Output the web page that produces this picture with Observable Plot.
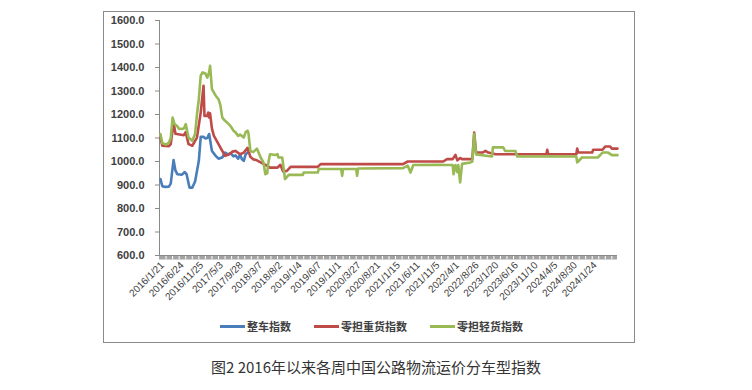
<!DOCTYPE html>
<html>
<head>
<meta charset="utf-8">
<script src="https://cdn.jsdelivr.net/npm/d3@7"></script>
<script src="https://cdn.jsdelivr.net/npm/@observablehq/plot@0.6"></script>
<style>
  html, body { margin: 0; padding: 0; background: #fff; }
  body { width: 752px; height: 390px; position: relative; overflow: hidden; font-family: "Liberation Sans", Arial, sans-serif; }
  #frame { position: absolute; left: 103px; top: 11px; width: 530px; height: 330px; border: 1px solid #8a8a8a; }
  #chart { position: absolute; left: 0; top: 0; }
  #chart svg { overflow: visible; }
  #legend { position: absolute; left: 220px; top: 318px; display: flex; align-items: center; font-family: "Noto Sans CJK SC", sans-serif; font-size: 11px; font-weight: bold; color: #404040; }
  .item { display: flex; align-items: center; }
  .sw { width: 25px; height: 3px; margin-right: 2px; }
  #caption { position: absolute; left: 0; width: 752px; top: 356px; text-align: center; font-family: "Noto Sans CJK SC", sans-serif; font-size: 15px; color: #333; letter-spacing: 0px; }
</style>
</head>
<body>
<div id="frame"></div>
<div id="chart"></div>
<div id="legend"></div>
<div id="caption"></div>
<script>
// ---- data (week index since 2016/1/21) ----
const xLabels = ["2016/1/21","2016/6/24","2016/11/25","2017/5/3","2017/9/28","2018/3/7","2018/8/2","2019/1/4","2019/6/7","2019/11/1","2020/3/27","2020/8/21","2021/1/15","2021/6/11","2021/11/5","2022/4/1","2022/8/26","2023/1/20","2023/6/16","2023/11/10","2024/4/5","2024/8/30","2024/1/24"];
const xLabelWeeks = [0,21,42,63,84,105,126,147,168,189,210,231,252,273,294,315,336,357,378,399,420,441,462];
const yTicks = [600,700,800,900,1000,1100,1200,1300,1400,1500,1600];

const seriesNames = ["整车指数","零担重货指数","零担轻货指数"];
const seriesColors = ["#4a7ebb","#be4b48","#98b954"];

const wholeWeeks  = [0,2,5,9,11,14,16,18,23,26,28,31,34,37,41,43,46,48,50,52,55,59,62,66,69,72,75,78,80,83,85,87,89,91,93,96];
const wholeValues = [925,895,892,893,906,1006,962,946,944,955,945,889,889,915,1003,1105,1105,1098,1100,1117,1045,1024,1012,1017,1038,1030,1035,1022,1026,1012,1030,1010,1003,1030,1038,1045];

const heavyWeeks  = [0,2,9,11,14,16,25,27,30,34,39,43,46,47,50,51,52,53,55,57,62,66,69,73,77,80,85,89,93,96,99,103,110,114,117,125,128,131,135,139,168,171,259,264,302,306,312,315,317,320,322,333,335,337,344,347,350,358,412,413,414,444,445,446,461,462,472,475,480,482,488];
const heavyValues = [1102,1067,1065,1074,1166,1118,1112,1125,1074,1067,1102,1208,1322,1194,1194,1208,1187,1205,1140,1110,1074,1045,1024,1030,1042,1045,1031,1038,1058,1020,1010,1005,990,982,974,974,986,958,960,977,977,989,989,1000,1000,1010,1010,1028,1005,1015,1010,1010,1123,1038,1038,1045,1038,1031,1031,1050,1031,1031,1055,1038,1038,1050,1050,1064,1064,1055,1055];

const lightWeeks  = [0,2,6,9,11,13,15,18,20,25,27,29,30,34,37,39,41,43,45,48,50,52,53,55,59,62,64,66,69,73,75,78,80,83,85,89,91,93,94,96,99,103,107,110,112,114,115,117,123,125,126,130,131,133,137,152,153,168,169,193,194,195,209,210,211,259,264,267,270,299,304,312,313,315,317,318,320,322,331,333,335,337,354,355,366,368,379,381,444,445,446,450,467,472,478,482,488];
const lightValues = [1117,1078,1072,1080,1100,1187,1160,1150,1138,1140,1159,1120,1102,1088,1117,1200,1265,1365,1379,1375,1357,1380,1407,1308,1280,1265,1240,1187,1173,1159,1150,1131,1125,1109,1115,1102,1125,1131,1120,1045,1040,1055,1017,996,946,950,990,1031,1028,1031,1017,1017,989,925,943,943,953,953,968,968,939,968,968,939,970,972,982,953,985,986,985,985,946,985,955,985,911,990,996,1000,1117,1030,1021,1060,1060,1045,1045,1021,1021,996,1000,1017,1017,1038,1038,1027,1027];

// ---- build tables ----
const toRows = (weeks, values) => weeks.map((w, i) => ({week: w, value: values[i]}));
const whole = toRows(wholeWeeks, wholeValues);
const heavy = toRows(heavyWeeks, heavyValues);
const light = toRows(lightWeeks, lightValues);
const xLabelRows = xLabelWeeks.map((w, i) => ({week: w, label: xLabels[i]}));
const gapWeeks = d3.range(6, 489, 7);

const lineOpts = (color) => ({x: "week", y: "value", stroke: color, strokeWidth: 2.6, strokeLinejoin: "round", strokeLinecap: "round"});

const chart = Plot.plot({
  width: 752,
  height: 310,
  marginLeft: 159,
  marginRight: 135,
  marginTop: 20,
  marginBottom: 55,
  style: {fontFamily: "'Liberation Sans', Arial, sans-serif", background: "transparent"},
  x: {domain: [-1, 488], axis: null},
  y: {domain: [600, 1600], axis: null},
  marks: [
    // x axis band with tick gaps
    Plot.ruleY([600], {stroke: "#a3a3a3", strokeWidth: 4, dy: 2}),
    Plot.ruleX(gapWeeks, {x: d => d, y1: 600, y2: 582, stroke: "#fff", strokeWidth: 1}),
    Plot.ruleY([600], {stroke: "#8a8a8a", strokeWidth: 1}),
    // y axis line and ticks
    Plot.ruleX([-1], {y1: 600, y2: 1600, stroke: "#8a8a8a", strokeWidth: 1}),
    Plot.ruleY(yTicks, {y: d => d, x1: -5.3, x2: -1, stroke: "#8a8a8a", strokeWidth: 1}),
    Plot.text(yTicks, {x: -1, y: d => d, text: d => d.toFixed(1), textAnchor: "end", dx: -15, fontSize: 11, fontWeight: "bold", fill: "#404040"}),
    // x labels
    Plot.text(xLabelRows, {x: "week", y: 600, text: "label", rotate: -45, textAnchor: "end", lineAnchor: "middle", dx: 2, dy: 8, fontSize: 10, fill: "#404040"}),
    // series
    Plot.line(whole, lineOpts(seriesColors[0])),
    Plot.line(heavy, lineOpts(seriesColors[1])),
    Plot.line(light, lineOpts(seriesColors[2]))
  ]
});
document.getElementById("chart").appendChild(chart);

// legend
const legend = document.getElementById("legend");
seriesNames.forEach((name, i) => {
  const item = document.createElement("div");
  item.className = "item";
  item.style.marginRight = i < 2 ? "23px" : "0";
  const sw = document.createElement("div");
  sw.className = "sw";
  sw.style.background = seriesColors[i];
  const tx = document.createElement("span");
  tx.textContent = name;
  item.appendChild(sw);
  item.appendChild(tx);
  legend.appendChild(item);
});

document.getElementById("caption").textContent = "图2 2016年以来各周中国公路物流运价分车型指数";
</script>
</body>
</html>
